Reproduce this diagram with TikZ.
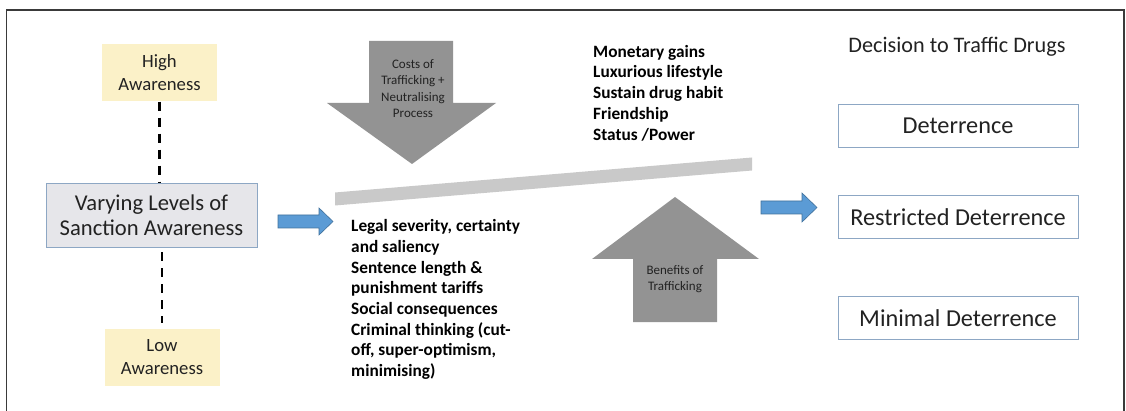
\documentclass[tikz,border=0pt]{standalone}
\usepackage{fontspec}
\setmainfont{Carlito}
\usetikzlibrary{positioning}

\definecolor{awareyellow}{HTML}{FBF1C8}
\definecolor{levelgrey}{HTML}{E6E6EA}
\definecolor{boxedge}{HTML}{8DA7C4}
\definecolor{arrowblue}{HTML}{5B9BD5}
\definecolor{arrowedge}{HTML}{41719C}
\definecolor{forcegrey}{HTML}{939393}
\definecolor{balancegrey}{HTML}{C9C9C9}
\definecolor{framegrey}{HTML}{3A3A3A}
\definecolor{inktext}{HTML}{222222}

\begin{document}
\begin{tikzpicture}[x=1pt,y=-1pt,node distance=91pt,on grid]
  \tikzstyle{aware}=[fill=awareyellow, minimum width=115pt, minimum height=57pt,
    align=center, text=inktext, font=\fontsize{18.7}{23}\selectfont]
  \tikzstyle{outcome}=[draw=boxedge, line width=0.9pt, fill=white, minimum width=240pt,
    minimum height=43pt, text=inktext, font=\fontsize{24.3}{28}\selectfont]
  \tikzstyle{factors}=[inner sep=0pt, align=left, font=\bfseries\fontsize{17.3}{20.7}\selectfont]
  \tikzstyle{forcetext}=[align=center, text=inktext, font=\fontsize{13}{16.4}\selectfont]
  \tikzstyle{bluearrow}=[fill=arrowblue, draw=arrowedge, line width=0.6pt]
  \tikzstyle{force}=[fill=forcegrey]

  \useasboundingbox (0,0) rectangle (1126,411);
  \draw[framegrey, line width=1.8pt] (6.5,415) -- (6.5,10) -- (1124,10) -- (1124,415);

  % sanction awareness
  \node[fill=levelgrey, draw=boxedge, line width=0.9pt, minimum width=211pt, minimum height=64pt,
        align=center, text=inktext, font=\fontsize{22.6}{25.5}\selectfont]
        (levels) at (151.5,215) {Varying Levels of\\Sanction Awareness};
  \node[aware] (high) at (159.5,73) {High\\Awareness};
  \node[aware] (low)  at (162,357)  {Low\\Awareness};

  \draw[line width=2.6pt, dash pattern=on 9pt off 7pt] (high.south) -- (high.south |- levels.north);
  \draw[line width=2.6pt, dash pattern=on 9pt off 7pt, shorten <=5pt, shorten >=5pt]
        (low.north |- levels.south) -- (low.north);

  % costs and benefits
  \fill[force] (369,41) -- (453,41) -- (453,103) -- (496,103) -- (412,164)
               -- (327,103) -- (369,103) -- cycle;
  \node[forcetext] (costs) at (413,88.5) {Costs of\\Trafficking +\\Neutralising\\Process};

  \fill[balancegrey] (335,192.5) -- (752,157.5) -- (752,170.5) -- (335,205.5) -- cycle;

  \fill[force] (633,322) -- (717,322) -- (717,259) -- (759,259) -- (675,197)
               -- (592,259) -- (633,259) -- cycle;
  \node[forcetext] (benefits) at (675,279) {Benefits of\\Trafficking};

  \node[factors, anchor=west] (deter) at (351,299.5)
        {Legal severity, certainty\\and saliency\\Sentence length \&\\punishment tariffs\\
         Social consequences\\Criminal thinking (cut-\\off, super-optimism,\\minimising)};
  \node[factors, anchor=west] (gains) at (593,93)
        {Monetary gains\\Luxurious lifestyle\\Sustain drug habit\\Friendship\\Status /Power};

  % decision
  \node[text=inktext, font=\fontsize{22.2}{26}\selectfont] (decision) at (957,47) {Decision to Traffic Drugs};
  \node[outcome] (det) at (958,126) {Deterrence};
  \node[outcome] (res) [below=91pt of det] {Restricted Deterrence};
  \node[outcome] (mini) [below=101pt of res] {Minimal Deterrence};

  % flow arrows
  \coordinate (inA)  at (278,221.5);
  \coordinate (inB)  at (761,207.5);
  \draw[bluearrow] (inA) -- ++(0,-6.5) -- ++(41,0) -- ++(0,-7) -- ++(14,13.5)
                   -- ++(-14,13.5) -- ++(0,-7) -- ++(-41,0) -- cycle;
  \draw[bluearrow] (inB) -- ++(0,-6.5) -- ++(41,0) -- ++(0,-8) -- ++(15,14.5)
                   -- ++(-15,14.5) -- ++(0,-8) -- ++(-41,0) -- cycle;
\end{tikzpicture}
\end{document}
